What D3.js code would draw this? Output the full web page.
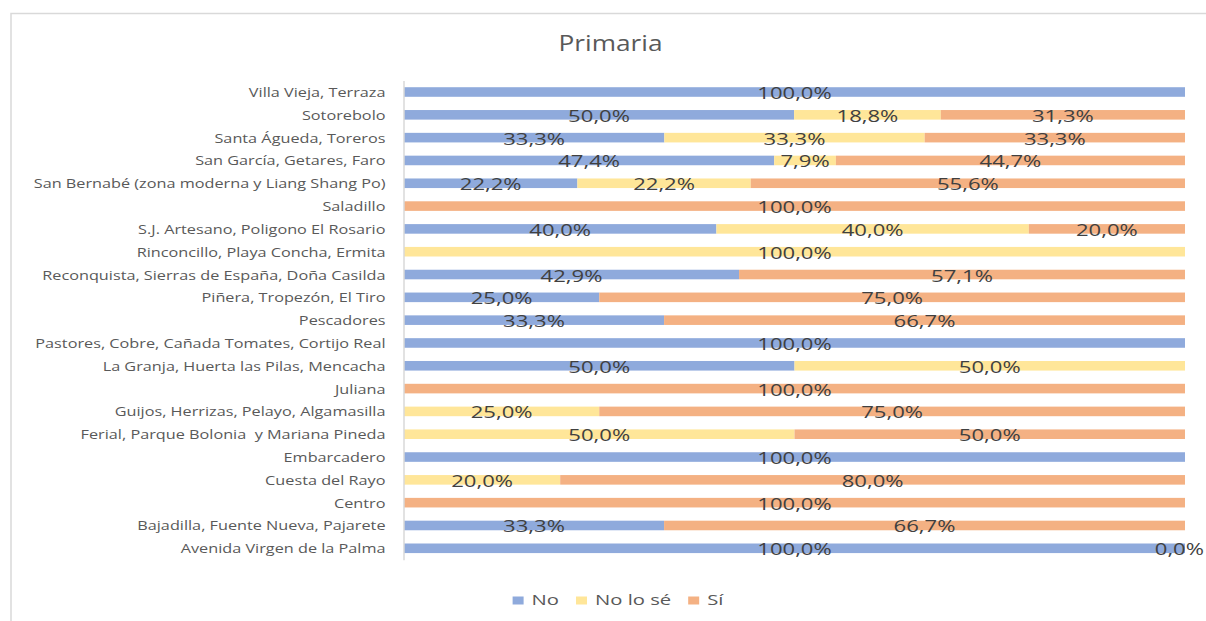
<!DOCTYPE html>
<html>
<head>
<meta charset="utf-8">
<script src="https://cdn.jsdelivr.net/npm/d3@7"></script>
<style>
  html, body { margin: 0; padding: 0; background: #ffffff; }
  svg { display: block; font-family: "Open Sans", "DejaVu Sans", sans-serif; }
  svg text { white-space: pre; }
</style>
</head>
<body>
<svg id="chart" width="1206" height="621"></svg>
<script>
// Neighbourhood names, top to bottom
const categories = [
  "Villa Vieja, Terraza",
  "Sotorebolo",
  "Santa Águeda, Toreros",
  "San García, Getares, Faro",
  "San Bernabé (zona moderna y Liang Shang Po)",
  "Saladillo",
  "S.J. Artesano, Poligono El Rosario",
  "Rinconcillo, Playa Concha, Ermita",
  "Reconquista, Sierras de España, Doña Casilda",
  "Piñera, Tropezón, El Tiro",
  "Pescadores",
  "Pastores, Cobre, Cañada Tomates, Cortijo Real",
  "La Granja, Huerta las Pilas, Mencacha",
  "Juliana",
  "Guijos, Herrizas, Pelayo, Algamasilla",
  "Ferial, Parque Bolonia  y Mariana Pineda",
  "Embarcadero",
  "Cuesta del Rayo",
  "Centro",
  "Bajadilla, Fuente Nueva, Pajarete",
  "Avenida Virgen de la Palma"
];

// Percentages per answer (null = no answers in that group)
const noValues   = [100, 50,   33.3, 47.4, 22.2, null, 40,   null, 42.9, 25,   33.3, 100,  50,   null, null, null, 100,  null, null, 33.3, 100];
const noSeValues = [null, 18.8, 33.3, 7.9, 22.2, null, 40,   100,  null, null, null, null, 50,   null, 25,   50,   null, 20,   null, null, null];
const siValues   = [null, 31.3, 33.3, 44.7, 55.6, 100, 20,   null, 57.1, 75,   66.7, null, null, 100,  75,   50,   null, 80,   100,  66.7, 0];

const seriesNames  = ["No", "No lo sé", "Sí"];
const seriesValues = [noValues, noSeValues, siValues];
const seriesColors = ["#8faadc", "#ffe699", "#f4b183"];

const title = "Primaria";

const W = 1206;
const svg = d3.select("#chart");
const LABEL_SX = 1.3;   // horizontal widening of the category labels
const VALUE_SX = 1.3;   // horizontal widening of the value labels

// Chart frame
svg.append("rect")
  .attr("x", 11).attr("y", 13.5)
  .attr("width", 1300).attr("height", 700)
  .attr("fill", "#ffffff")
  .attr("stroke", "#d9d9d9").attr("stroke-width", 1.5);

// Title
svg.append("text")
  .attr("transform", `translate(610.5,51) scale(1.25,1)`)
  .attr("text-anchor", "middle")
  .attr("font-size", 21)
  .attr("fill", "#595959")
  .text(title);

const x = d3.scaleLinear().domain([0, 100]).range([404, 1185]);
const y = d3.scaleBand()
  .domain(categories)
  .range([80.6, 559.7])
  .paddingInner(0.58)
  .paddingOuter(0.29);

// Row data, each stack normalised to 100 %
const rows = categories.map((c, i) => {
  const vals = seriesValues.map(s => s[i]);
  const total = d3.sum(vals, v => v || 0);
  let acc = 0;
  return vals.map((v, k) => {
    const start = acc;
    const share = v == null ? 0 : (v / total) * 100;
    acc += share;
    return { cat: c, key: k, value: v, x0: start, x1: acc };
  });
});
const segments = rows.flat();

// Bars
svg.append("g")
  .selectAll("rect")
  .data(segments.filter(d => d.value != null && d.value > 0))
  .join("rect")
  .attr("x", d => x(d.x0))
  .attr("y", d => y(d.cat))
  .attr("width", d => x(d.x1) - x(d.x0))
  .attr("height", y.bandwidth())
  .attr("fill", d => seriesColors[d.key]);

// Category axis
const axis = svg.append("g")
  .attr("transform", "translate(403.5,0)")
  .call(d3.axisLeft(y).tickSize(0).tickPadding(18));
axis.select(".domain").attr("stroke", "#d9d9d9").attr("stroke-width", 1.5);
axis.selectAll(".tick text")
  .attr("x", null).attr("dy", null)
  .attr("transform", `translate(-18,5) scale(${LABEL_SX},1)`)
  .attr("font-family", "Open Sans")
  .attr("font-size", 12.5)
  .attr("fill", "#595959");

// Data labels, kept inside the page on the right
const fmt = v => v.toFixed(1).replace(".", ",") + "%";
svg.append("g")
  .selectAll("text")
  .data(segments.filter(d => d.value != null))
  .join("text")
  .attr("text-anchor", "middle")
  .attr("font-size", 17)
  .attr("fill", "#404040")
  .text(d => fmt(d.value))
  .attr("transform", function(d) {
    const half = this.getComputedTextLength() * VALUE_SX / 2;
    const cx = Math.min((x(d.x0) + x(d.x1)) / 2, W - 2 - half);
    return `translate(${cx},${y(d.cat) + y.bandwidth() / 2 + 7}) scale(${VALUE_SX},1)`;
  });

// Legend
const legend = svg.append("g");
const items = legend.selectAll("g").data(seriesNames).join("g");
items.append("rect")
  .attr("width", 11).attr("height", 8)
  .attr("y", -8)
  .attr("fill", (d, i) => seriesColors[i]);
items.append("text")
  .attr("transform", `translate(19,0) scale(1.35,1)`)
  .attr("font-size", 15)
  .attr("fill", "#595959")
  .text(d => d);
let cursor = 0;
const offsets = [];
items.each(function() {
  offsets.push(cursor);
  cursor += 19 + d3.select(this).select("text").node().getComputedTextLength() * 1.35 + 17;
});
const totalW = cursor - 17;
const startX = 618 - totalW / 2;
items.attr("transform", (d, i) => `translate(${startX + offsets[i]},604.5)`);
</script>
</body>
</html>
